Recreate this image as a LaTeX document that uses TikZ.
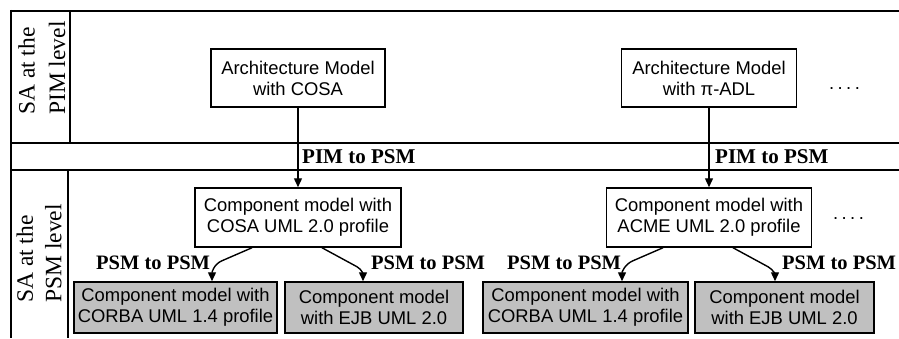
\documentclass[tikz,border=0pt]{standalone}
\usepackage{fontspec}
\setmainfont{Liberation Serif}
\newfontfamily\arial{Liberation Sans}
\usetikzlibrary{arrows.meta,calc}
\definecolor{boxgray}{RGB}{192,192,192}
\begin{document}
\begin{tikzpicture}[x=1pt,y=1pt,
  box/.style={draw, line width=1.5pt, fill=white, font=\arial\fontsize{18.4}{21}\selectfont, align=center, inner sep=0pt, minimum height=58pt},
  gbox/.style={box, fill=boxgray, minimum height=51pt},
  lbl/.style={font=\bfseries\fontsize{21}{24}\selectfont, inner sep=0pt, anchor=base west},
  slbl/.style={font=\bfseries\fontsize{20.5}{24}\selectfont, inner sep=0pt, anchor=base west},
  side/.style={rotate=90, align=left, inner sep=0pt, anchor=south west},
  arr/.style={line width=1.4pt, -{Triangle[length=9pt,width=8pt]}},
  dots/.style={font=\arial\fontsize{18.4}{21}\selectfont, anchor=base west, inner sep=0pt},
  frameline/.style={line width=2pt},
  divider/.style={line width=1.3pt}]
\useasboundingbox (0,0) rectangle (899,338);
% frame
\draw[line width=2.5pt] (10,327) -- (899,327);
\draw[frameline] (11,328) -- (11,0);
\draw[divider] (70,327) -- (70,195);
\draw[divider] (11,195) -- (899,195);
\draw[divider] (11,168) -- (899,168);
\draw[divider] (68,168) -- (68,0);
% side labels
\node[side, font=\fontsize{23.5}{30.5}\selectfont] (s1) at (65.5,223) {SA at the\\PIM level};
\node[side, font=\fontsize{23.5}{28.5}\selectfont] (s2) at (61.7,35) {SA at the\\PSM level};
% boxes
\node[box, minimum width=174pt] (A1) at (298,260) {Architecture Model\\with COSA};
\node[box, minimum width=175pt] (A2) at (709,260) {Architecture Model\\with π-ADL};
\node[box, minimum width=206pt, minimum height=59pt] (C1) at (298,120.5) {Component model with\\COSA UML 2.0 profile};
\node[box, minimum width=205pt, minimum height=59pt] (C2) at (709,120.5) {Component model with\\ACME UML 2.0 profile};
\node[gbox, minimum width=203pt] (G1) at (175.5,30.5) {Component model with\\CORBA UML 1.4 profile};
\node[gbox, minimum width=178pt] (G2) at (374,30.5) {Component model\\with EJB UML 2.0};
\node[gbox, minimum width=205pt] (G3) at (585.5,30.5) {Component model with\\CORBA UML 1.4 profile};
\node[gbox, minimum width=179pt] (G4) at (784.5,30.5) {Component model\\with EJB UML 2.0};
% arrows
\draw[arr] (A1) -- (C1);
\draw[arr] (A2) -- (C2);
\draw[arr] ($(C1.south)+(-46,0)$) -- ++(-30,-13) to[out=203,in=90] ($(G1.north)+(36.5,0)$);
\draw[arr] ($(C1.south)+(24,0)$) -- ++(35,-19) to[out=-29,in=90] ($(G2.north)+(-11,0)$);
\draw[arr] ($(C2.south)+(-46,0)$) -- ++(-30,-13) to[out=203,in=90] ($(G3.north)+(36.5,0)$);
\draw[arr] ($(C2.south)+(24,0)$) -- ++(35,-19) to[out=-29,in=90] ($(G4.north)+(-9.5,0)$);
% labels
\node[lbl] (p1) at (302,175) {PIM to PSM};
\node[lbl] (p2) at (715,175) {PIM to PSM};
\node[slbl] (q1) at (96,69) {PSM to PSM};
\node[slbl] (q2) at (371,69) {PSM to PSM};
\node[slbl] (q3) at (507,69) {PSM to PSM};
\node[slbl] (q4) at (782,69) {PSM to PSM};
% dots
\node[dots] (d1) at (829,248) {.\kern3.4pt.\kern3.4pt.\kern3.4pt.};
\node[dots] (d2) at (833,119) {.\kern3.4pt.\kern3.4pt.\kern3.4pt.};
\end{tikzpicture}
\end{document}
